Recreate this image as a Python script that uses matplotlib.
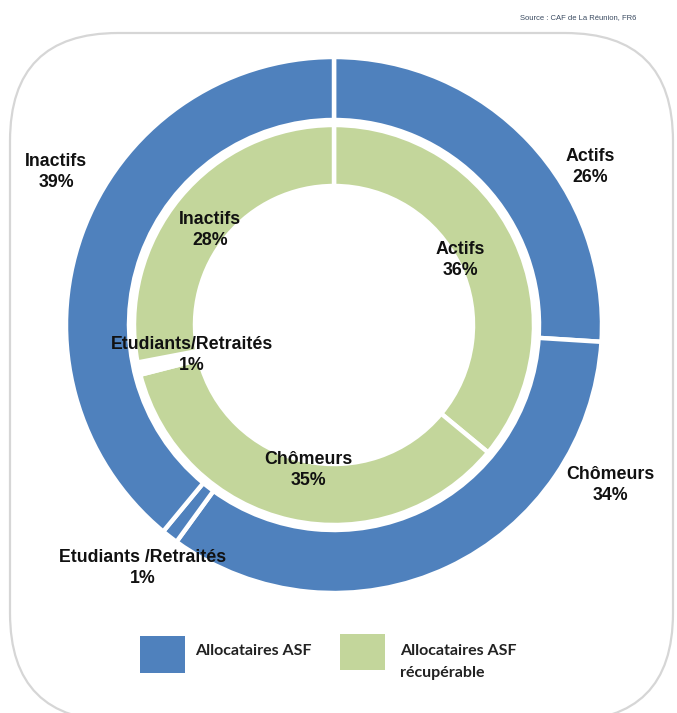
import matplotlib.pyplot as plt
from matplotlib.patches import FancyBboxPatch, Rectangle

# --- data -------------------------------------------------------
outer_labels = ["Actifs", "Chômeurs", "Etudiants /Retraités", "Inactifs"]
outer_values = [26, 34, 1, 39]          # Allocataires ASF (%)

inner_labels = ["Actifs", "Chômeurs", "Etudiants/Retraités", "Inactifs"]
inner_values = [36, 35, 1, 28]          # Allocataires ASF récupérable (%)

legend_labels = ["Allocataires ASF", "Allocataires ASF\nrécupérable"]
source_text = "Source : CAF de La Réunion, FR6"

# --- layout (pixel space, y up) ----------------------------------
W, H = 677, 713
CX, CY = 334, H - 325
BLUE = "#4F81BD"
GREEN = "#C3D69B"

outer_label_pos = [(590, H - 167), (610, H - 485), (143, H - 568), (56, H - 172)]
inner_label_pos = [(460, H - 260), (308, H - 470), (192, H - 355), (210, H - 230)]

fig = plt.figure(figsize=(W / 100, H / 100), dpi=100)
ax = fig.add_axes([0, 0, 1, 1])

# rounded frame behind the chart (runs slightly past the bottom edge)
frame = FancyBboxPatch((10, -8), 663, H - 33 + 8,
                       boxstyle="round,pad=0,rounding_size=108",
                       facecolor="white", edgecolor="#d6d6d6", linewidth=1.6, zorder=0)
ax.add_patch(frame)

ax.pie(outer_values, radius=268, center=(CX, CY), startangle=90, counterclock=False,
       colors=[BLUE] * len(outer_values),
       wedgeprops=dict(width=63, edgecolor="white", linewidth=3.2), frame=False)
# the tiny inner slice shows up only as a gap in the ring
inner_colors = [GREEN if v > 1 else "white" for v in inner_values]
ax.pie(inner_values, radius=200, center=(CX, CY), startangle=90, counterclock=False,
       colors=inner_colors,
       wedgeprops=dict(width=61, edgecolor="white", linewidth=3.2), frame=False)

ax.set_xlim(0, W)
ax.set_ylim(0, H)
ax.set_aspect("equal")
ax.axis("off")

lab_font = dict(family=["Liberation Sans", "DejaVu Sans"], fontsize=12.8,
                fontweight="bold", color="#111111", ha="center", va="center",
                linespacing=1.3, zorder=5)
for name, val, (x, y) in zip(outer_labels, outer_values, outer_label_pos):
    ax.text(x, y, f"{name}\n{val}%", **lab_font)
for name, val, (x, y) in zip(inner_labels, inner_values, inner_label_pos):
    ax.text(x, y, f"{name}\n{val}%", **lab_font)

# legend drawn by hand: two squares with labels
leg_font = dict(family=["Lato", "DejaVu Sans"], fontsize=11.5, fontweight="bold",
                color="#222222", ha="left", va="top", linespacing=1.75)
ax.add_patch(Rectangle((140, H - 673), 45, 37, facecolor=BLUE, edgecolor="none"))
ax.text(195, H - 644, legend_labels[0], **leg_font)
ax.add_patch(Rectangle((340, H - 670), 45, 36, facecolor=GREEN, edgecolor="none"))
ax.text(400, H - 644, legend_labels[1], **leg_font)

ax.text(636, H - 18, source_text, family=["Liberation Sans", "DejaVu Sans"],
        fontsize=5.5, color="#3a4a60", ha="right", va="center")

fig.savefig("out.png", dpi=100, facecolor="white")
